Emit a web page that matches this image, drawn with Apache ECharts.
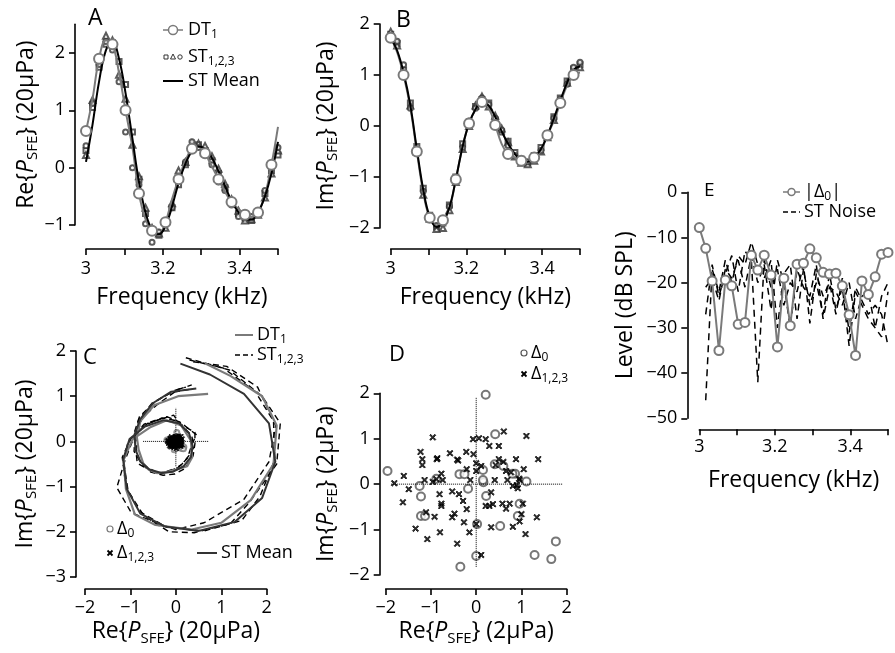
<!DOCTYPE html>
<html>
<head>
<meta charset="utf-8">
<script src="https://cdn.jsdelivr.net/npm/echarts@6/dist/echarts.min.js"></script>
<style>html,body{margin:0;padding:0;background:#fff}#main{width:895px;height:653px}</style>
</head>
<body>
<div id="main"></div>
<script>
// frequency grid (kHz)
var freq=[3.000,3.017,3.034,3.052,3.069,3.086,3.103,3.121,3.138,3.155,3.172,3.190,3.207,3.224,3.241,3.259,3.276,3.293,3.310,3.328,3.345,3.362,3.379,3.397,3.414,3.431,3.448,3.466,3.483,3.500]

// real part (20 uPa)
var dtRe=[0.64,1.20,1.90,2.22,2.15,1.65,1.00,0.35,-0.45,-0.90,-1.10,-1.15,-0.95,-0.55,-0.20,0.12,0.33,0.36,0.25,0.02,-0.20,-0.42,-0.60,-0.72,-0.82,-0.86,-0.78,-0.48,0.05,0.71]
var st1Re=[0.30,1.05,1.75,2.15,2.18,1.85,1.45,0.62,-0.20,-0.80,-1.10,-1.18,-0.98,-0.70,-0.30,0.05,0.35,0.40,0.30,0.12,-0.10,-0.35,-0.62,-0.80,-0.88,-0.92,-0.80,-0.45,-0.05,0.22]
var st2Re=[0.22,1.18,1.90,2.30,2.22,1.62,1.20,0.40,-0.15,-0.70,-1.05,-1.15,-1.05,-0.62,-0.05,0.10,0.42,0.42,0.38,0.20,-0.02,-0.28,-0.55,-0.75,-0.92,-0.90,-0.82,-0.52,-0.10,0.30]
var st3Re=[0.38,1.12,1.80,2.20,2.05,1.50,0.62,0.00,-0.30,-0.98,-1.30,-1.12,-0.92,-0.70,-0.20,0.10,0.45,0.35,0.25,0.05,-0.25,-0.40,-0.65,-0.85,-0.88,-0.85,-0.75,-0.40,0.05,0.35]
var stMeanRe=[0.10,0.75,1.50,2.05,2.19,1.90,1.30,0.50,-0.25,-0.78,-1.08,-1.16,-1.02,-0.68,-0.27,0.07,0.29,0.37,0.33,0.17,-0.06,-0.32,-0.58,-0.78,-0.89,-0.91,-0.78,-0.50,-0.10,0.45]

// imaginary part (20 uPa)
var dtIm=[1.73,1.45,1.00,0.35,-0.50,-1.30,-1.80,-1.95,-1.85,-1.62,-1.05,-0.40,0.05,0.32,0.47,0.35,0.02,-0.35,-0.55,-0.62,-0.68,-0.70,-0.62,-0.48,-0.18,0.10,0.45,0.80,1.00,1.05]
var st1Im=[1.80,1.62,1.10,0.45,-0.40,-1.22,-1.75,-1.98,-1.90,-1.55,-1.00,-0.35,0.08,0.38,0.52,0.45,0.12,-0.12,-0.30,-0.52,-0.65,-0.72,-0.58,-0.42,-0.15,0.18,0.55,0.88,1.12,1.20]
var st2Im=[1.85,1.58,1.00,0.40,-0.50,-1.35,-1.82,-2.02,-2.00,-1.65,-1.10,-0.45,0.00,0.40,0.58,0.38,0.20,-0.05,-0.32,-0.60,-0.72,-0.75,-0.68,-0.50,-0.22,0.12,0.48,0.85,1.08,1.15]
var st3Im=[1.76,1.66,1.20,0.35,-0.45,-1.28,-1.80,-1.95,-1.85,-1.58,-1.02,-0.42,0.10,0.35,0.55,0.42,0.15,-0.08,-0.38,-0.58,-0.68,-0.70,-0.60,-0.48,-0.20,0.15,0.52,0.82,1.15,1.25]
var stMeanIm=[1.72,1.48,1.05,0.40,-0.45,-1.25,-1.78,-1.98,-1.88,-1.60,-1.05,-0.40,0.05,0.33,0.47,0.40,0.18,-0.10,-0.35,-0.55,-0.67,-0.70,-0.62,-0.45,-0.18,0.15,0.50,0.85,1.10,1.17]

// residuals [re, im] in 2 uPa
var delta0=[[0.21,1.97],[0.42,1.10],[-1.96,0.29],[-0.37,0.22],[-0.26,0.22],[0.15,0.31],[0.60,0.40],[0.41,0.44],[0.86,0.23],[1.11,0.06],[-1.25,-0.04],[-0.88,0.12],[-0.18,-0.10],[0.16,0.04],[-1.22,-0.27],[0.22,-0.26],[0.96,-0.43],[-1.22,-0.70],[-1.13,-0.70],[0.92,-0.70],[0.53,-0.92],[1.76,-1.26],[1.29,-1.56],[1.66,-1.65],[0.00,-1.58],[-0.35,-1.82],[0.15,0.09],[0.80,0.23],[0.02,-0.88]]
var delta123=[[-0.96,1.03],[-0.07,0.99],[0.06,1.01],[0.21,0.99],[0.61,1.16],[1.11,1.06],[0.29,0.84],[0.50,0.84],[-1.23,0.71],[-0.58,0.68],[-0.22,0.71],[-0.06,0.66],[-1.19,0.55],[-1.19,0.42],[-0.87,0.55],[-0.42,0.54],[-0.40,0.52],[0.50,0.55],[0.60,0.49],[0.88,0.55],[1.37,0.55],[0.00,0.46],[0.11,0.40],[-0.21,0.33],[0.43,0.42],[-0.77,0.23],[-0.88,0.11],[-1.60,0.18],[0.66,0.29],[0.77,0.26],[1.05,0.33],[-1.81,0.02],[-1.14,0.09],[-0.96,0.05],[-0.74,0.09],[-0.13,0.09],[0.00,0.29],[0.41,0.09],[0.69,0.09],[0.96,0.09],[0.81,-0.04],[0.92,-0.09],[-1.49,-0.11],[-1.62,-0.40],[-0.81,-0.22],[-0.77,-0.43],[-0.77,-0.48],[-0.53,-0.16],[-0.38,-0.22],[-0.29,-0.37],[0.33,-0.18],[0.21,-0.48],[0.29,-0.48],[0.37,-0.44],[0.58,-0.43],[0.74,-0.43],[0.66,-0.54],[1.03,-0.43],[-1.11,-0.62],[-0.92,-0.72],[-0.53,-0.73],[-0.48,-0.65],[-0.21,-0.55],[1.34,-0.73],[1.00,-0.66],[-0.27,-0.84],[0.00,-0.88],[0.33,-0.95],[0.81,-0.94],[0.96,-0.82],[-1.34,-0.98],[-0.80,-1.06],[-0.15,-1.06],[1.09,-1.10],[-1.08,-1.21],[-0.42,-1.31],[0.11,-1.56],[0.90,-0.02],[0.95,0.12],[-0.86,0.57]]

// levels (dB SPL)
var absDelta0=[-7.8,-12.4,-19.6,-35.0,-19.4,-20.7,-29.2,-28.8,-13.9,-17.2,-13.9,-18.3,-34.2,-19.0,-29.5,-15.9,-15.7,-12.5,-14.5,-17.7,-18.1,-17.9,-20.7,-27.1,-36.1,-19.6,-22.6,-18.7,-13.7,-13.3]
var noise1=[null,-46,-17,-22,-15,-20,-14,-16,-11,-16,-19,-15,-30,-18,-16,-28,-17,-25,-20,-27,-18,-26,-21,-34,-22,-25,-28,-30,-32,-22]
var noise2=[null,-27,-16,-23,-18,-14,-22,-13,-15,-42,-15,-21,-17,-25,-20,-22,-16,-29,-18,-23,-20,-27,-19,-31,-21,-24,-27,-25,-27,-34]
var noise3=[null,-21,-19,-24,-17,-19,-15,-21,-14,-20,-16,-26,-15,-20,-30,-17,-21,-23,-16,-28,-21,-22,-25,-20,-28,-23,-22,-30,-23,-20]

var freqTicks=[3,3.1,3.2,3.3,3.4,3.5]
var freqLabels=[3,3.2,3.4]

var FONT='"Open Sans","DejaVu Sans",sans-serif'
var GRAY='#7a7a7a'
var CROSS='path://M0,1.5L1.5,0L5,3.5L8.5,0L10,1.5L6.5,5L10,8.5L8.5,10L5,6.5L1.5,10L0,8.5L3.5,5Z'

function zip(a,b){return a.map(function(v,i){return [v,b[i]]})}
function scale(arr,k){return arr.map(function(p){return [p[0]*k,p[1]*k]})}
function minus(v){return String(v).replace('-','\u2212')}

var titleRich={
    i:{fontFamily:FONT,fontSize:23,fontStyle:'italic',lineHeight:28,color:'#000'},
    s:{fontFamily:FONT,fontSize:15,lineHeight:15,verticalAlign:'bottom',color:'#000'},
    t:{fontFamily:FONT,fontSize:23,lineHeight:28,color:'#000'}
}
var titleStyle={fontFamily:FONT,fontSize:23,color:'#000',lineHeight:28,rich:titleRich}
function pName(kind,unit){return '{t|'+kind+'{}{i|P}{s|SFE}} ('+unit+'μPa)'}

function axis(grid,min,max,ticks,labels,offset,name,gap,margin){
    return {
        gridIndex:grid,type:'value',min:min,max:max,offset:offset,
        axisLine:{show:true,onZero:false,lineStyle:{color:'#000',width:1.6}},
        axisTick:{show:true,length:6,customValues:ticks,lineStyle:{color:'#000',width:1.6}},
        axisLabel:{customValues:labels,margin:margin,color:'#000',fontSize:18,fontFamily:FONT,formatter:minus},
        splitLine:{show:false},
        name:name,nameLocation:'middle',nameGap:gap,nameTextStyle:titleStyle
    }
}
function hidden(grid,min,max){
    return {gridIndex:grid,type:'value',min:min,max:max,show:false,splitLine:{show:false}}
}

var xAxes=[
    axis(0,3,3.5,freqTicks,freqLabels,24,'Frequency (kHz)',34,11),
    axis(1,3,3.5,freqTicks,freqLabels,21,'Frequency (kHz)',34,11),
    axis(2,-2,2,[-2,-1,0,1,2],[-2,-1,0,1,2],12,pName('Re','20'),27,10),
    axis(3,-2,2,[-2,-1,0,1,2],[-2,-1,0,1,2],14,pName('Re','2'),27,10),
    axis(4,3,3.5,freqTicks,freqLabels,11,'Frequency (kHz)',37,9),
    hidden(5,-2.5,2.5)
]
var yAxes=[
    axis(0,-1,2.5,[-1,0,1,2],[-1,0,1,2],11,pName('Re','20'),35,10),
    axis(1,-2,2,[-2,-1,0,1,2],[-2,-1,0,1,2],11,pName('Im','20'),39,10),
    axis(2,-3,2,[-3,-2,-1,0,1,2],[-3,-2,-1,0,1,2],9,pName('Im','20'),37,10),
    axis(3,-2,2,[-2,-1,0,1,2],[-2,-1,0,1,2],6,pName('Im','2'),39,10),
    axis(4,-50,0,[-50,-40,-30,-20,-10,0],[-50,-40,-30,-20,-10,0],12,'Level (dB SPL)',48,10),
    hidden(5,-3.5,2.5)
]

function lineS(grid,data,color,width,extra){
    var s={type:'line',xAxisIndex:grid,yAxisIndex:grid,data:data,symbol:'none',clip:false,
        lineStyle:{color:color,width:width},itemStyle:{color:color},z:3}
    for(var k in extra){s[k]=extra[k]}
    return s
}
function dots(grid,data,symbol,size,color){
    return {type:'scatter',xAxisIndex:grid,yAxisIndex:grid,data:data,symbol:symbol,symbolSize:size,clip:false,
        itemStyle:{color:color,borderColor:color,borderWidth:1},z:2}
}
var dtSymbol=function(v,p){return p.dataIndex%2===0?'emptyCircle':'none'}
function dtLine(grid,ys){
    return lineS(grid,zip(freq,ys),GRAY,2,{smooth:0.4,symbol:dtSymbol,symbolSize:10,showAllSymbol:true,
        itemStyle:{color:GRAY,borderColor:GRAY,borderWidth:1.6}})
}
var dotted={color:'#000',width:1,type:'dotted'}
var dashed={color:'#000',width:1.4,type:[6,4]}

var series=[
    // A
    dots(0,zip(freq,st1Re),'emptyRect',5,'#333'),
    dots(0,zip(freq,st2Re),'emptyTriangle',6,'#333'),
    dots(0,zip(freq,st3Re),'emptyCircle',5,'#333'),
    dtLine(0,dtRe),
    lineS(0,zip(freq,stMeanRe),'#000',2,{smooth:0.4}),
    // B
    dots(1,zip(freq,st1Im),'emptyRect',5,'#333'),
    dots(1,zip(freq,st2Im),'emptyTriangle',6,'#333'),
    dots(1,zip(freq,st3Im),'emptyCircle',5,'#333'),
    dtLine(1,dtIm),
    lineS(1,zip(freq,stMeanIm),'#000',2,{smooth:0.4}),
    // C (drawn on a wider hidden grid with the same scale, so nothing is cut)
    lineS(5,[[-0.72,0],[0.72,0]],'#000',1,{lineStyle:dotted}),
    lineS(5,[[0,-0.55],[0,0.74]],'#000',1,{lineStyle:dotted}),
    lineS(5,zip(st1Re,st1Im),'#000',1.4,{lineStyle:dashed}),
    lineS(5,zip(st2Re,st2Im),'#000',1.4,{lineStyle:dashed}),
    lineS(5,zip(st3Re,st3Im),'#000',1.4,{lineStyle:dashed}),
    lineS(5,zip(dtRe,dtIm),GRAY,2.2),
    lineS(5,zip(stMeanRe,stMeanIm),'#333',2),
    dots(5,scale(delta0,0.1),'emptyCircle',5,GRAY),
    dots(5,scale(delta123,0.1),CROSS,5,'#000'),
    // D
    lineS(3,[[-1.88,0],[1.92,0]],'#000',1,{lineStyle:dotted}),
    lineS(3,[[0,-1.82],[0,1.9]],'#000',1,{lineStyle:dotted}),
    dots(3,delta0,'emptyCircle',8,'#555'),
    dots(3,delta123,CROSS,6,'#000'),
    // E
    lineS(4,zip(freq,noise1),'#000',1.5,{lineStyle:{color:'#000',width:1.5,type:[7,5]}}),
    lineS(4,zip(freq,noise2),'#000',1.5,{lineStyle:{color:'#000',width:1.5,type:[7,5]}}),
    lineS(4,zip(freq,noise3),'#000',1.5,{lineStyle:{color:'#000',width:1.5,type:[7,5]}}),
    lineS(4,zip(freq,absDelta0),GRAY,2,{symbol:'emptyCircle',symbolSize:9,showAllSymbol:true,
        itemStyle:{color:GRAY,borderColor:GRAY,borderWidth:1.8}})
]

// legends and panel letters
var legRich={
    n:{fontFamily:FONT,fontSize:18,lineHeight:22,color:'#000'},
    s:{fontFamily:FONT,fontSize:12,lineHeight:12,verticalAlign:'bottom',color:'#000'}
}
function txt(x,y,t,size){
    return {type:'text',x:x,y:y,style:{text:t,fontFamily:FONT,fontSize:size||18,fill:'#000',align:'left',verticalAlign:'middle',rich:legRich}}
}
function seg(x1,x2,y,color,w,dash){
    return {type:'line',shape:{x1:x1,y1:y,x2:x2,y2:y},style:{stroke:color,lineWidth:w,lineDash:dash||null}}
}
function ring(x,y,r,color,w){
    return {type:'circle',shape:{cx:x,cy:y,r:r},style:{fill:'#fff',stroke:color,lineWidth:w}}
}
function cross(x,y){
    return [
        {type:'line',shape:{x1:x-2.5,y1:y-2.5,x2:x+2.5,y2:y+2.5},style:{stroke:'#000',lineWidth:1.8}},
        {type:'line',shape:{x1:x+2.5,y1:y-2.5,x2:x-2.5,y2:y+2.5},style:{stroke:'#000',lineWidth:1.8}}
    ]
}
var graphics=[
    {type:'text',x:88,y:7,style:{text:'A',fontFamily:FONT,fontSize:23,fill:'#000'}},
    {type:'text',x:396,y:9,style:{text:'B',fontFamily:FONT,fontSize:23,fill:'#000'}},
    {type:'text',x:83,y:347,style:{text:'C',fontFamily:FONT,fontSize:22,fill:'#000'}},
    {type:'text',x:389,y:344,style:{text:'D',fontFamily:FONT,fontSize:22,fill:'#000'}},
    {type:'text',x:704,y:181,style:{text:'E',fontFamily:FONT,fontSize:19,fill:'#000'}},
    // A legend
    seg(163,183,30,GRAY,1.5),ring(173,30,4.5,GRAY,1.5),txt(188,30,'{n|DT}{s|1}'),
    {type:'rect',shape:{x:164,y:55,width:4,height:4},style:{fill:'#fff',stroke:'#333',lineWidth:1}},
    {type:'polygon',shape:{points:[[173,54],[175.5,59],[170.5,59]]},style:{fill:'#fff',stroke:'#333',lineWidth:1}},
    ring(180,57,2.2,'#333',1),
    txt(188,57,'{n|ST}{s|1,2,3}'),
    seg(163,183,81,'#000',2),txt(188,81,'{n|ST Mean}'),
    // C legend
    seg(235,253,335,GRAY,2),txt(257,335,'{n|DT}{s|1}'),
    seg(235,253,355,'#000',1.5,[5,3]),txt(257,355,'{n|ST}{s|1,2,3}'),
    ring(110,529,3,GRAY,1.2),txt(117,529,'{n|Δ}{s|0}'),
    txt(117,553,'{n|Δ}{s|1,2,3}'),
    seg(197,217,553,'#333',2),txt(221,553,'{n|ST Mean}'),
    // D legend
    ring(524,353,3,'#555',1.2),txt(531,353,'{n|Δ}{s|0}'),
    txt(531,374,'{n|Δ}{s|1,2,3}'),
    // E legend
    seg(783,800,192,GRAY,1.5),ring(791.5,192,3.5,GRAY,1.5),txt(804,192,'{n||Δ}{s|0}{n||}'),
    seg(783,800,212,'#000',1.5,[5,3]),txt(804,212,'{n|ST Noise}')
].concat(cross(110,553),cross(524,374))

var myChart=echarts.init(document.getElementById('main'))
var option={
    backgroundColor:'#fff',
    animation:false,
    grid:[
        {left:86,top:24.3,width:192,height:200.7},
        {left:390.7,top:24,width:189.3,height:204},
        {left:85,top:351,width:181.7,height:226},
        {left:385.7,top:393.3,width:181,height:181.7},
        {left:699.3,top:192.3,width:188.7,height:226},
        // same scale as grid 2, padded by half a unit on every side
        {left:62.3,top:328.4,width:227.1,height:271.2}
    ],
    xAxis:xAxes,
    yAxis:yAxes,
    series:series,
    graphic:graphics
}
myChart.setOption(option)
</script>
</body>
</html>
